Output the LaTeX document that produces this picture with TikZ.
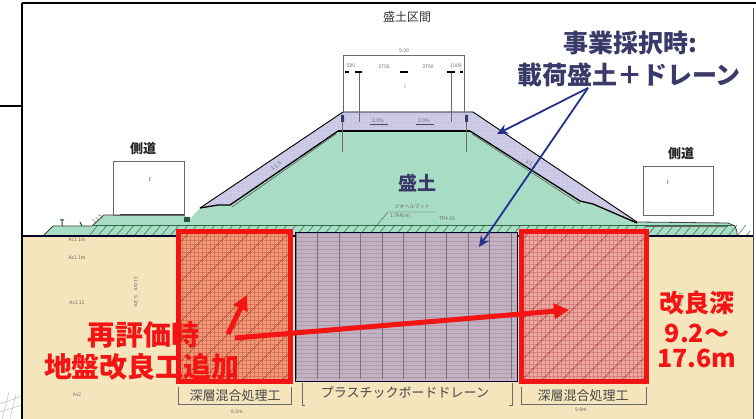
\documentclass[tikz,border=0pt]{standalone}
\usepackage{fontspec}
\setmainfont{Liberation Sans}
\newfontfamily\jp{Noto Sans CJK JP}
\usetikzlibrary{arrows.meta}
\definecolor{beige}{HTML}{F4E5BD}
\definecolor{mint}{HTML}{A9DCC5}
\definecolor{lav}{HTML}{C9C5E6}
\definecolor{mauve}{HTML}{C5B1C4}
\definecolor{boxL}{HTML}{F09C78}
\definecolor{boxR}{HTML}{ECA8A2}
\definecolor{navy}{HTML}{3A3A6A}
\definecolor{arrowblue}{HTML}{23308C}
\definecolor{hatchgreen}{HTML}{2E6B45}
\definecolor{redA}{HTML}{F41414}
\definecolor{gline}{HTML}{6A6A6A}
\tikzset{
 tinytxt/.style={font=\jp\fontsize{5}{6}\selectfont, text=black!60, inner sep=0},
 lbl/.style={font=\jp\fontsize{13}{15}\selectfont, text=black!72, inner sep=0},
 toptxt/.style={font=\jp\fontsize{12}{14}\selectfont, text=black!80, inner sep=0},
 navytxt/.style={font=\jp\bfseries\fontsize{25}{30}\selectfont, text=navy, inner sep=0},
 moritxt/.style={font=\jp\bfseries\fontsize{19}{22}\selectfont, text=navy, inner sep=0},
 redtxt/.style={font=\jp\bfseries\fontsize{28}{32}\selectfont, text=redA, inner sep=0},
 redtxtR/.style={font=\jp\bfseries\fontsize{25}{30}\selectfont, text=redA, inner sep=0},
 roadtxt/.style={font=\jp\bfseries\fontsize{13}{15}\selectfont, text=black!85, inner sep=0},
 bluearrow/.style={arrowblue, line width=1.8pt, -{Stealth[length=11pt,width=10pt]}},
 redarrow/.style={redA, line width=5pt, -{Triangle[length=15pt,width=15pt]}},
 thinline/.style={gline, line width=0.6pt},
 redbox/.style={redA, line width=5pt},
}
\begin{document}
\begin{tikzpicture}[x=1pt,y=-1pt]
\useasboundingbox (0,0) rectangle (756,419);
\fill[white] (0,0) rectangle (756,419);
% faint sketch bottom-left
\draw[black!25, line width=0.5pt] (0,404)--(22,396) (2,419)--(9,392) (10,419)--(16,394) (0,412)--(22,405);
% ground
\fill[beige] (22,236) rectangle (753,419);
% embankment (mint)
\fill[mint] (43,236)--(53,226)--(92,226)--(104,215)--(184,215)--(190,219)--(200,208)--(343,112)--(473,112)--(637,222)--(728,223)--(735,226)--(737,232)--(737,236)--cycle;
% load fill (lavender)
\fill[lav] (200,208)--(343,112)--(473,112)--(637,222)--(593,204)--(580,201)--(470,131)--(338,131)--(230,205)--(218,205)--cycle;
\begin{scope}
\clip (200,208)--(343,112)--(473,112)--(637,222)--(593,204)--(580,201)--(470,131)--(338,131)--(230,205)--(218,205)--cycle;
\foreach \x in {200,204,...,640} \draw[blue!30!gray!30, line width=0.2pt] (\x,110)--(\x,225);
\foreach \y in {112,116,...,224} \draw[blue!30!gray!30, line width=0.2pt] (198,\y)--(640,\y);
\end{scope}
% hatch strip
\begin{scope}
\clip (90,225) rectangle (750,236);
\foreach \x in {80,89,...,750} \draw[hatchgreen, line width=0.5pt] (\x,236)--(\x+9,225);
\end{scope}
\draw[hatchgreen, line width=0.7pt] (92,225)--(735,225);
% embankment outlines
\draw[black, line width=0.9pt] (200,208)--(343,112)--(473,112)--(637,222);
\draw[black, line width=2pt] (338,131)--(470,131);
\draw[black, line width=1.3pt] (338,131)--(230,205)--(218,205)--(200,208);
\draw[black, line width=1.3pt] (470,131)--(580,201)--(593,204)--(637,223);
\draw[black!70, line width=0.5pt] (336,134)--(232,207) (472,134)--(580,204);
% left mound
\draw[black!75, line width=0.8pt] (43,236)--(53,226)--(92,226)--(104,215)--(184,215);
\draw[black!80, line width=1.4pt] (120,215)--(184,215);
\fill[hatchgreen!80!black] (184,217) rectangle (190,222);
\draw[hatchgreen!70!black, line width=1pt] (60,220)--(64,220) (62,220)--(62,226) (80,222)--(82,226);
% right mound
\draw[black!75, line width=0.8pt] (637,222)--(728,223)--(735,226)--(737,232)--(737,236);
\draw[black!60, line width=0.6pt] (645,226)--(728,226);
% ground line
\draw[black!85!blue, line width=1.3pt] (22,236)--(753,236);
% frame
\draw[black, line width=2pt] (22,3)--(756,3);
\draw[black, line width=1.8pt] (22,3)--(22,419);
\draw[black, line width=1.2pt] (0,106)--(22,106);
\draw[black!70, line width=0.8pt] (753,8)--(753,419);
% side road boxes
\draw[thinline] (113,161) rectangle (184,215);
\draw[thinline] (643,166) rectangle (713,215);
\node[roadtxt] (roadL) at (143,149) {側道};
\node[roadtxt] (roadR) at (681,154) {側道};
\node[tinytxt] (eL) at (150,180) {E};
\node[tinytxt] (fR) at (668,183) {F};
% crest dimension
\draw[thinline] (343,55)--(343,112) (464,55)--(464,112) (343,55)--(464,55);
\draw[thinline] (359,72)--(359,122) (451,72)--(451,122);
\draw[black, line width=1.3pt] (345,72)--(349,72) (355,72)--(362,72) (400,72)--(408,72) (447,72)--(455,72) (460,72)--(463,72);
\node[tinytxt] (d900) at (404,51) {9.00};
\node[tinytxt] (d1) at (351,66) {500};
\node[tinytxt] (d2) at (384,67) {3750};
\node[tinytxt] (d3) at (428,67) {3750};
\node[tinytxt] (d4) at (456,66) {1000};
\node[tinytxt] (dI) at (405,87) {I};
\node[tinytxt] (pc1) at (378,121) {2.0\%};
\node[tinytxt] (pc2) at (424,121) {2.0\%};
\draw[black!70, line width=0.4pt] (370,124)--(388,124) (416,124)--(434,124);
\draw[thinline] (342,118)--(342,152) (466,118)--(466,152);
\fill[navy] (341,115) rectangle (344,122) (465,115) rectangle (468,122);
% slope labels
\node[tinytxt, rotate=34] (sl1) at (276,166) {1:1.5};
\node[tinytxt, rotate=-34] (sl2) at (531,164) {1:1.5};
\node[tinytxt, rotate=40] (sl3) at (97,219) {1:1.5};
% geo mat label
\node[tinytxt] (geo) at (412,207) {ジオヘルマット};
\node[tinytxt] (geo2) at (400,216) {1.7kN/m};
\draw[black!70, line width=0.4pt] (437,212)--(388,212)--(377,225);
\node[tinytxt] (tp) at (447,219) {TP4.60};
% top label
\node[toptxt] (sec) at (407,17) {盛土区間};
% deep mixing boxes
\fill[boxL] (178,232) rectangle (290,382);
\fill[boxR] (521,232) rectangle (646,382);
\begin{scope}
\clip (178,232) rectangle (290,382);
\foreach \x in {0,4,...,112} \draw[red!60!black!25!boxL, line width=0.2pt] (178+\x,232)--(178+\x,382);
\foreach \y in {0,4,...,150} \draw[red!60!black!25!boxL, line width=0.2pt] (178,232+\y)--(290,232+\y);
\foreach \x in {40,60,...,460} \draw[black!55!red, line width=0.35pt] (\x,382)--(\x+150,232);
\end{scope}
\begin{scope}
\clip (521,232) rectangle (646,382);
\foreach \x in {0,4,...,125} \draw[red!60!black!25!boxR, line width=0.2pt] (521+\x,232)--(521+\x,382);
\foreach \y in {0,4,...,150} \draw[red!60!black!25!boxR, line width=0.2pt] (521,232+\y)--(646,232+\y);
\foreach \x in {380,400,...,800} \draw[black!55!red, line width=0.35pt] (\x,382)--(\x+150,232);
\end{scope}
\draw[redbox] (178,232) rectangle (290,382);
\draw[redbox] (521,232) rectangle (646,382);
% PBD zone
\fill[mauve] (295,233) rectangle (517,382);
\begin{scope}
\clip (295,233) rectangle (517,382);
\foreach \y in {0,4,...,150} \draw[black!12!mauve, line width=0.2pt] (295,233+\y)--(517,233+\y);
\foreach \x in {296,317.5,...,517} \draw[black!55, line width=0.8pt] (\x,233)--(\x,379);
\end{scope}
\draw[black!80!blue, line width=1pt] (295,233) rectangle (517,382);
% bottom labels
\node[lbl] (lblL) at (235,396) {深層混合処理工};
\node[lbl] (lblM) at (405,393) {プラスチックボードドレーン};
\node[lbl] (lblR) at (583,396) {深層混合処理工};
\draw[thinline] (178,387)--(178,404)--(291,404)--(291,387);
\draw[thinline] (521,387)--(521,404)--(646,404)--(646,387);
\draw[thinline] (302,383)--(302,405)--(305,405) (512,383)--(512,405)--(509,405);
\node[tinytxt] (w1) at (237,412) {8.5m};
\node[tinytxt] (w2) at (581,410) {9.8m};
% soil labels
\node[tinytxt] (s1) at (77,240) {Ac1 1m};
\node[tinytxt] (s2) at (77,258) {Ac1 1m};
\node[tinytxt] (s3) at (77,303) {Ac1 11};
\node[tinytxt] (s4) at (77,395) {As2};
\node[tinytxt, rotate=-90] (v1) at (136,292) {11.0m\quad 9.2m};
\node[tinytxt, rotate=-90] (v2) at (681,300) {17.6m};
% embankment label
\node[moritxt] (mori) at (417,183) {盛土};
% title
\node[navytxt] (t1) at (630,43) {事業採択時:};
\node[navytxt] (t2) at (629,75) {載荷盛土＋ドレーン};
\coordinate (bs) at (588,88);
\coordinate (be1) at (497,134);
\coordinate (be2) at (479,247);
\draw[bluearrow] (bs)--(be1);
\draw[bluearrow] (bs)--(be2);
% red texts
\node[redtxt] (r1) at (143,335) {再評価時};
\node[redtxt] (r2) at (142,367) {地盤改良工追加};
\node[redtxtR] (q1) at (697,303) {改良深};
\node[redtxtR] (q2) at (697,333) {9.2～};
\node[redtxtR] (q3) at (697,358) {17.6m};
\coordinate (rs) at (235,338);
\coordinate (re) at (569,310);
\coordinate (rs2) at (228,334);
\coordinate (re2) at (247,295);
\draw[redarrow] (rs)--(re);
\draw[redarrow] (rs2)--(re2);
\end{tikzpicture}
\end{document}
